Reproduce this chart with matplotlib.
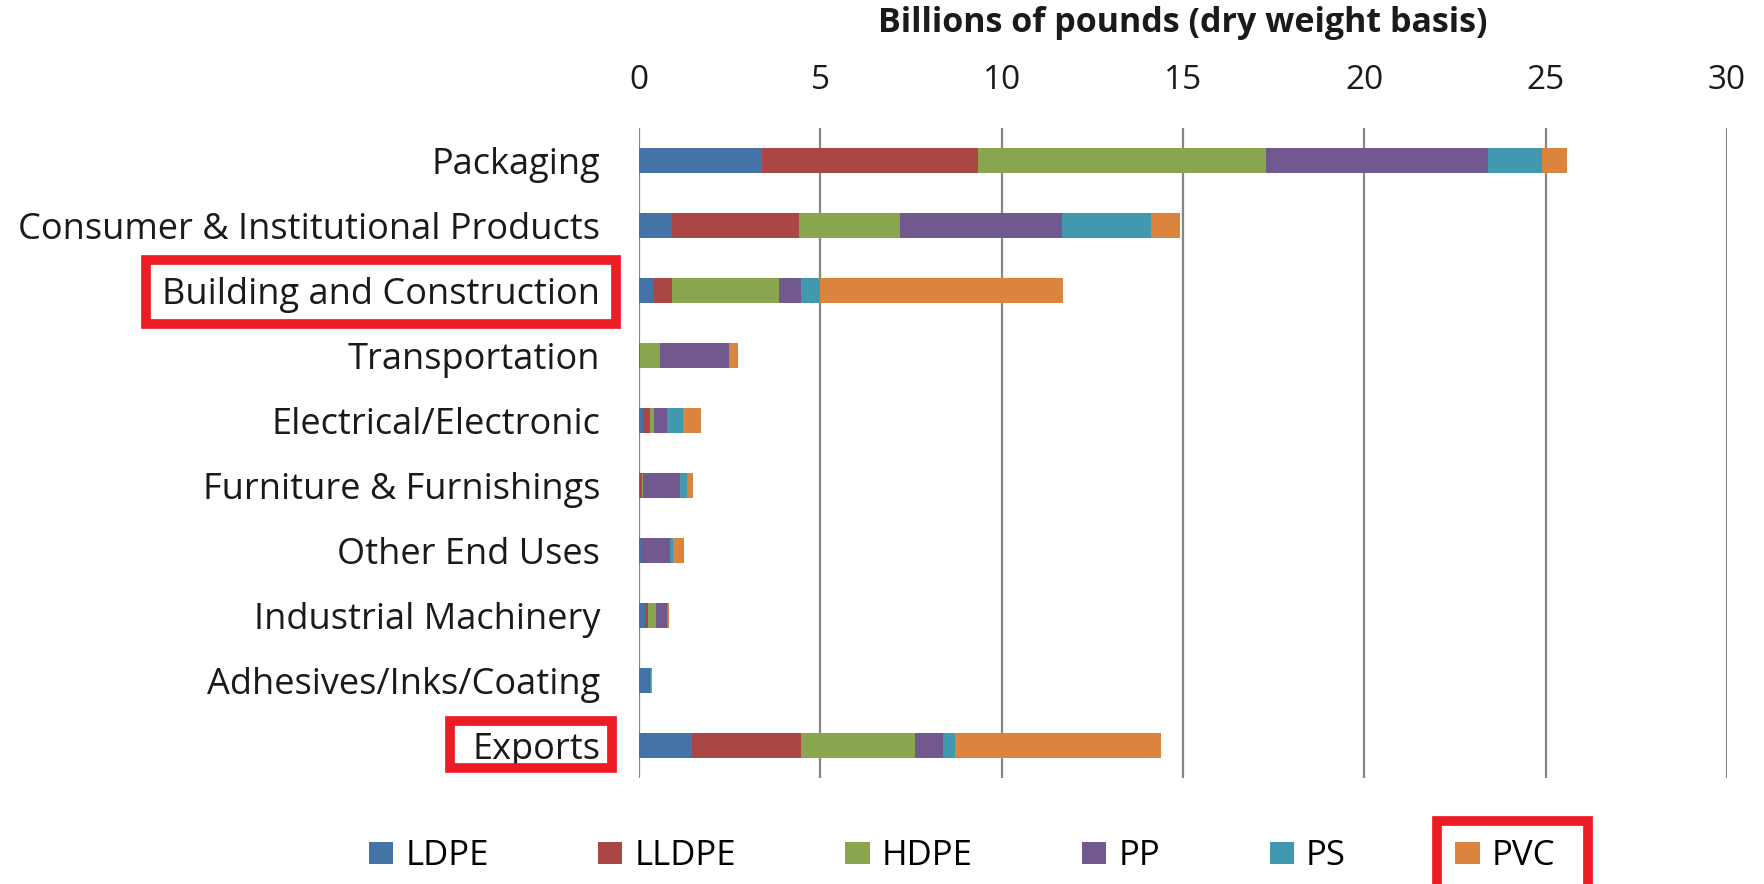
import numpy as np
import matplotlib.pyplot as plt
from matplotlib.patches import Rectangle

# end uses (top to bottom)
categories = ["Packaging", "Consumer & Institutional Products", "Building and Construction",
              "Transportation", "Electrical/Electronic", "Furniture & Furnishings",
              "Other End Uses", "Industrial Machinery", "Adhesives/Inks/Coating", "Exports"]

resins = ["LDPE", "LLDPE", "HDPE", "PP", "PS", "PVC"]

# billions of pounds
ldpe  = [3.40, 0.92, 0.40, 0.02, 0.10, 0.04, 0.05, 0.17, 0.27, 1.47]
lldpe = [5.96, 3.48, 0.50, 0.02, 0.20, 0.03, 0.02, 0.07, 0.02, 3.00]
hdpe  = [7.93, 2.79, 2.95, 0.54, 0.10, 0.05, 0.02, 0.24, 0.01, 3.13]
pp    = [6.13, 4.46, 0.62, 1.89, 0.38, 1.02, 0.76, 0.30, 0.01, 0.79]
ps    = [1.47, 2.46, 0.53, 0.02, 0.44, 0.17, 0.08, 0.02, 0.01, 0.31]
pvc   = [0.69, 0.80, 6.70, 0.25, 0.49, 0.18, 0.32, 0.03, 0.05, 5.69]

colors = ["#4572A7", "#AA4643", "#89A54E", "#71588F", "#4198AF", "#DB843D"]

plt.rcParams['font.family'] = ['Open Sans', 'DejaVu Sans']
W, H = 1764, 884
fig = plt.figure(figsize=(W / 100, H / 100), dpi=100)
ax = fig.add_axes([639 / W, 1 - 778 / H, (1727 - 639) / W, (778 - 128) / H])

y = np.arange(len(categories))
left = np.zeros(len(categories))
for name, vals, c in zip(resins, [ldpe, lldpe, hdpe, pp, ps, pvc], colors):
    ax.barh(y, vals, left=left, height=0.39, color=c, label=name, zorder=3)
    left += np.array(vals)

ax.set_xlim(0, 30)
ax.set_ylim(len(categories) - 0.5, -0.5)
ax.set_yticks(y)
ax.set_yticklabels(categories, fontsize=26, color="#1a1a1a")
ax.set_xticks(np.arange(0, 31, 5))
ax.xaxis.tick_top()
ax.xaxis.set_label_position('top')
ax.tick_params(axis='x', length=0, labelsize=24, labelcolor="#1a1a1a", pad=22)
ax.tick_params(axis='y', length=0, pad=28)
ax.set_xlabel("Billions of pounds (dry weight basis)", fontsize=24.5, fontweight='bold',
              labelpad=23, color="#1a1a1a")
ax.grid(axis='x', color="#868686", linewidth=1.6, zorder=0)
for s in ax.spines.values():
    s.set_visible(False)

fig.legend(loc='center', bbox_to_anchor=(962 / W, 1 - 856 / H), ncol=6, frameon=False,
           fontsize=25, handlelength=0.7, handleheight=0.6, handletextpad=0.35,
           columnspacing=3.15)

# red highlight boxes (pixel coords: x0, y0_top, x1, y1_bottom)
boxes = [(146, 260, 616, 324), (450, 721, 612, 768), (1437, 821, 1588, 889)]
for x0, y0, x1, y1 in boxes:
    fig.add_artist(Rectangle((x0 / W, 1 - y1 / H), (x1 - x0) / W, (y1 - y0) / H,
                             transform=fig.transFigure, fill=False,
                             edgecolor="#ED1C24", linewidth=7, clip_on=False))

fig.savefig("out.png", dpi=100)
